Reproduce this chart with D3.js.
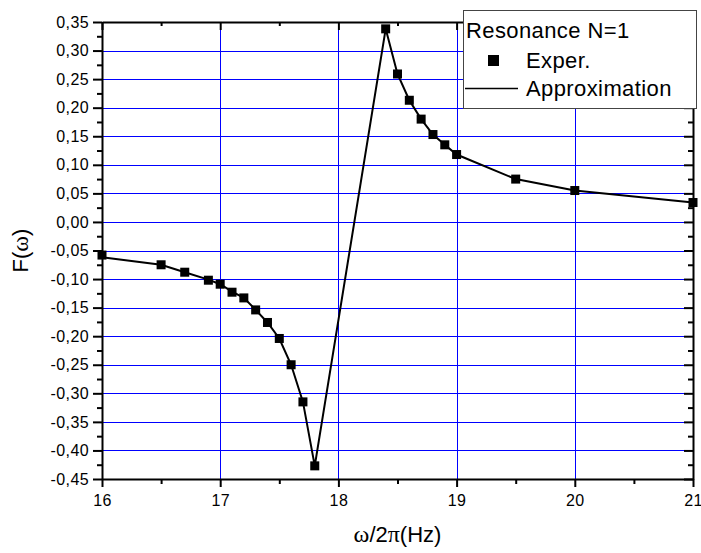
<!DOCTYPE html>
<html>
<head>
<meta charset="utf-8">
<script src="https://cdn.jsdelivr.net/npm/d3@7"></script>
<style>
  body { margin: 0; background: #fff; }
  svg { display: block; }
</style>
</head>
<body>
<div id="chart"></div>
<script>
// Resonance N=1 chart

const freq = [16, 16.5, 16.7, 16.9, 17.0, 17.1, 17.2, 17.3, 17.4, 17.5, 17.6, 17.7, 17.8,
              18.4, 18.5, 18.6, 18.7, 18.8, 18.9, 19.0, 19.5, 20.0, 21.0];
const exper = [-0.058, -0.075, -0.088, -0.102, -0.109, -0.123, -0.133, -0.154, -0.176, -0.204, -0.250, -0.315, -0.427,
               0.338, 0.259, 0.213, 0.180, 0.153, 0.135, 0.118, 0.075, 0.055, 0.034];
const approx = [-0.062, -0.075, -0.088, -0.101, -0.109, -0.122, -0.133, -0.154, -0.176, -0.204, -0.250, -0.315, -0.427,
                0.338, 0.259, 0.213, 0.180, 0.153, 0.135, 0.118, 0.075, 0.055, 0.034];

const xTicks = [16, 17, 18, 19, 20, 21];
const xMinor = [16.5, 17.5, 18.5, 19.5, 20.5];
const yTicks = [0.35, 0.30, 0.25, 0.20, 0.15, 0.10, 0.05, 0.00, -0.05, -0.10, -0.15, -0.20, -0.25, -0.30, -0.35, -0.40, -0.45];
const yMinor = [0.325, 0.275, 0.225, 0.175, 0.125, 0.075, 0.025, -0.025, -0.075, -0.125, -0.175, -0.225, -0.275, -0.325, -0.375, -0.425];

const width = 701, height = 553;
const margin = { left: 102, right: 8, top: 22, bottom: 74 };
const innerW = width - margin.left - margin.right;
const innerH = height - margin.top - margin.bottom;
const FONT = "Liberation Sans, Arial, Helvetica, sans-serif";
const SERIF = "Liberation Serif, Times New Roman, serif";

const svg = d3.select("#chart").append("svg")
    .attr("width", width)
    .attr("height", height);

const g = svg.append("g")
    .attr("transform", `translate(${margin.left},${margin.top})`);

const x = d3.scaleLinear().domain([16, 21]).range([0, innerW]);
const y = d3.scaleLinear().domain([-0.45, 0.35]).range([innerH, 0]);

const fmt = d => d3.format(".2f")(d).replace(".", ",").replace("−", "-");

// grid
g.append("g").selectAll("line.gy")
    .data(yTicks.slice(1, -1))
    .join("line")
    .attr("x1", 0).attr("x2", innerW)
    .attr("y1", d => Math.round(y(d)) + 0.5).attr("y2", d => Math.round(y(d)) + 0.5)
    .attr("stroke", "#0000ff").attr("stroke-width", 1);

g.append("g").selectAll("line.gx")
    .data(xTicks.slice(1, -1))
    .join("line")
    .attr("x1", d => Math.round(x(d)) + 0.5).attr("x2", d => Math.round(x(d)) + 0.5)
    .attr("y1", 0).attr("y2", innerH)
    .attr("stroke", "#0000ff").attr("stroke-width", 1);

// axes
function styleAxis(sel) {
    sel.select(".domain").attr("stroke", "#000").attr("stroke-width", 2);
    sel.selectAll(".tick line").attr("stroke", "#000").attr("stroke-width", 2);
    sel.selectAll(".tick text").attr("font-family", FONT).attr("font-size", "16px")
        .attr("letter-spacing", "0.4px").attr("fill", "#000");
}

const xAxis = g.append("g")
    .attr("transform", `translate(0,${innerH})`)
    .call(d3.axisBottom(x).tickValues(xTicks).tickSize(8).tickPadding(8).tickSizeOuter(0).tickFormat(d3.format("d")));
styleAxis(xAxis);
g.append("g").attr("transform", `translate(0,${innerH})`)
    .call(d3.axisBottom(x).tickValues(xMinor).tickSize(5).tickFormat(""))
    .call(s => { s.select(".domain").remove(); s.selectAll("line").attr("stroke-width", 2); });

const yAxis = g.append("g")
    .call(d3.axisLeft(y).tickValues(yTicks).tickSize(9).tickPadding(4).tickSizeOuter(0).tickFormat(fmt));
styleAxis(yAxis);
g.append("g")
    .call(d3.axisLeft(y).tickValues(yMinor).tickSize(5).tickFormat(""))
    .call(s => { s.select(".domain").remove(); s.selectAll("line").attr("stroke-width", 2); });

// top and right axes (ticks inward)
const topAxis = g.append("g")
    .call(d3.axisBottom(x).tickValues(xTicks).tickSize(8).tickSizeOuter(0).tickFormat(""));
topAxis.select(".domain").attr("stroke-width", 2);
topAxis.selectAll("line").attr("stroke-width", 2);
g.append("g")
    .call(d3.axisBottom(x).tickValues(xMinor).tickSize(4).tickFormat(""))
    .call(s => { s.select(".domain").remove(); s.selectAll("line").attr("stroke-width", 2); });

const rightAxis = g.append("g").attr("transform", `translate(${innerW},0)`)
    .call(d3.axisLeft(y).tickValues(yTicks).tickSize(9).tickSizeOuter(0).tickFormat(""));
rightAxis.select(".domain").attr("stroke-width", 2);
rightAxis.selectAll("line").attr("stroke-width", 2);
g.append("g").attr("transform", `translate(${innerW},0)`)
    .call(d3.axisLeft(y).tickValues(yMinor).tickSize(5).tickFormat(""))
    .call(s => { s.select(".domain").remove(); s.selectAll("line").attr("stroke-width", 2); });

// approximation line
const line = d3.line().x((d, i) => x(freq[i])).y(d => y(d));
g.append("path")
    .datum(approx)
    .attr("fill", "none")
    .attr("stroke", "#000")
    .attr("stroke-width", 2)
    .attr("d", line);

// experimental points
const ms = 9;
g.append("g").selectAll("rect")
    .data(exper)
    .join("rect")
    .attr("x", (d, i) => x(freq[i]) - ms / 2)
    .attr("y", d => y(d) - ms / 2)
    .attr("width", ms)
    .attr("height", ms)
    .attr("fill", "#000");

// axis titles
const xt = svg.append("text")
    .attr("x", margin.left + innerW / 2)
    .attr("y", 542)
    .attr("text-anchor", "middle")
    .attr("font-family", FONT)
    .attr("font-size", "22px");
xt.append("tspan").attr("font-family", SERIF).attr("font-size", "24px").text("ω");
xt.append("tspan").text("/2");
xt.append("tspan").attr("font-family", SERIF).attr("font-size", "24px").text("π");
xt.append("tspan").text("(Hz)");

const yt = svg.append("text")
    .attr("transform", `translate(28,${margin.top + innerH / 2}) rotate(-90)`)
    .attr("text-anchor", "middle")
    .attr("font-family", FONT)
    .attr("font-size", "22px");
yt.append("tspan").text("F(");
yt.append("tspan").attr("font-family", SERIF).attr("font-size", "24px").text("ω");
yt.append("tspan").text(")");

// legend
const lg = svg.append("g");
lg.append("rect")
    .attr("x", 463.5).attr("y", 10.5)
    .attr("width", 233).attr("height", 98)
    .attr("fill", "#fff")
    .attr("stroke", "#444")
    .attr("stroke-width", 1);
lg.append("text")
    .attr("x", 466).attr("y", 38)
    .attr("font-family", FONT).attr("font-size", "22px").attr("letter-spacing", "0.4px")
    .text("Resonance N=1");
lg.append("rect")
    .attr("x", 488).attr("y", 55)
    .attr("width", 11).attr("height", 11)
    .attr("fill", "#000");
lg.append("text")
    .attr("x", 526).attr("y", 68)
    .attr("font-family", FONT).attr("font-size", "22px").attr("letter-spacing", "0.4px")
    .text("Exper.");
lg.append("line")
    .attr("x1", 465).attr("x2", 518)
    .attr("y1", 88.5).attr("y2", 88.5)
    .attr("stroke", "#000").attr("stroke-width", 1.5);
lg.append("text")
    .attr("x", 526).attr("y", 96)
    .attr("font-family", FONT).attr("font-size", "22px").attr("letter-spacing", "0.4px")
    .text("Approximation");
</script>
</body>
</html>
